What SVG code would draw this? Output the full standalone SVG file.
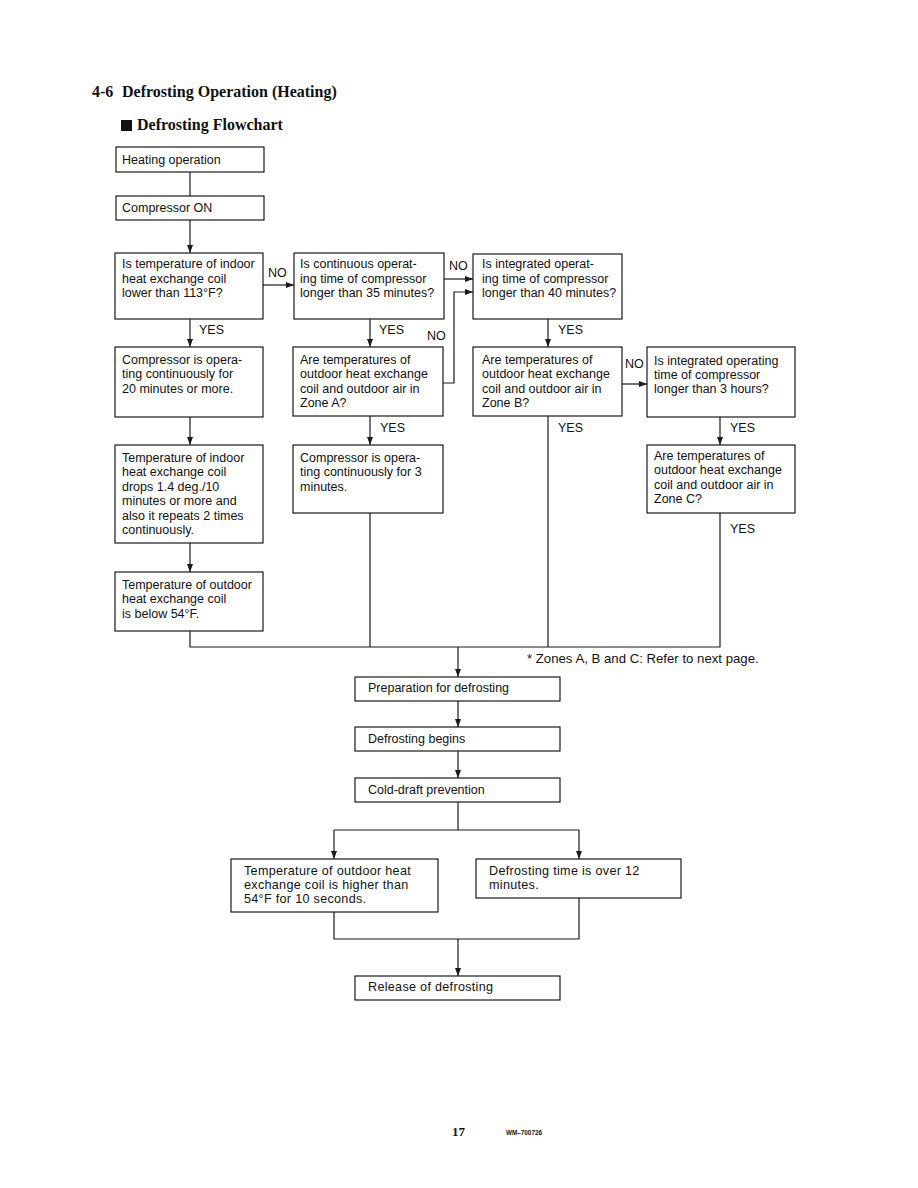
<svg xmlns="http://www.w3.org/2000/svg" width="918" height="1188" viewBox="0 0 918 1188">
<style>
.bg{fill:#ffffff}
.box{fill:#ffffff;stroke:#1a1a1a;stroke-width:1.2}
.t{font-family:"Liberation Sans",Arial,sans-serif;font-size:12.5px;fill:#111}
.t2{font-family:"Liberation Sans",Arial,sans-serif;font-size:12.6px;letter-spacing:0.3px;fill:#111}
.lbl{font-family:"Liberation Sans",Arial,sans-serif;font-size:12.5px;fill:#111}
.ttl{font-family:"Liberation Serif","Times New Roman",serif;font-weight:bold;font-size:16px;fill:#111}
.ln{fill:none;stroke:#1a1a1a;stroke-width:1.2}
.ar{fill:none;stroke:#1a1a1a;stroke-width:1.2;marker-end:url(#ah)}
</style>
<defs>
<marker id="ah" markerUnits="userSpaceOnUse" markerWidth="8" markerHeight="6" refX="8" refY="3" orient="auto">
<path d="M0,0 L8,3 L0,6 z" fill="#1a1a1a"/>
</marker>
</defs>
<rect class="bg" x="0" y="0" width="918" height="1188"/>

<g id="title">
<text class="ttl" x="92" y="97">4-6<tspan x="122">Defrosting Operation (Heating)</tspan></text>
<rect x="121" y="120" width="11" height="11" fill="#111"/>
<text class="ttl" x="137" y="130">Defrosting Flowchart</text>
</g>

<g id="connectors">
<path class="ln" d="M190,172 V196"/>
<path class="ar" d="M190,220 V253"/>
<path class="ar" d="M263,285 H294"/>
<path class="ar" d="M190,319 V347"/>
<path class="ar" d="M444,279 H473"/>
<path class="ar" d="M370,319 V347"/>
<path class="ar" d="M443,383 H454 V292 H473"/>
<path class="ar" d="M548,319 V347"/>
<path class="ar" d="M622,384 H647"/>
<path class="ar" d="M720,417 V445"/>
<path class="ar" d="M190,417 V445"/>
<path class="ar" d="M370,416 V445"/>
<path class="ar" d="M190,543 V572"/>
<path class="ln" d="M190,631 V647 H720 V513"/>
<path class="ln" d="M370,513 V647"/>
<path class="ln" d="M548,416 V647"/>
<path class="ar" d="M458,647 V677"/>
<path class="ar" d="M458,701 V727"/>
<path class="ar" d="M458,751 V778"/>
<path class="ln" d="M458,802 V830"/>
<path class="ln" d="M334,830 H579"/>
<path class="ar" d="M334,830 V859"/>
<path class="ar" d="M579,830 V859"/>
<path class="ln" d="M334,912 V939 H579 V898"/>
<path class="ar" d="M458,939 V976"/>
</g>

<g id="labels">
<text class="lbl" x="268" y="277">NO</text>
<text class="lbl" x="449" y="270">NO</text>
<text class="lbl" x="427" y="340">NO</text>
<text class="lbl" x="625" y="368">NO</text>
<text class="lbl" x="199" y="334">YES</text>
<text class="lbl" x="379" y="334">YES</text>
<text class="lbl" x="558" y="334">YES</text>
<text class="lbl" x="730" y="432">YES</text>
<text class="lbl" x="380" y="432">YES</text>
<text class="lbl" x="558" y="432">YES</text>
<text class="lbl" x="730" y="533">YES</text>
<text class="lbl" x="527" y="663" style="font-size:13.2px">* Zones A, B and C: Refer to next page.</text>
</g>

<g id="n-heating">
<rect class="box" x="116" y="147" width="148" height="25"/>
<text class="t" x="122" y="164">Heating operation</text>
</g>
<g id="n-compressor-on">
<rect class="box" x="116" y="196" width="148" height="24"/>
<text class="t" x="122" y="212">Compressor ON</text>
</g>
<g id="n-indoor-coil">
<rect class="box" x="115" y="253" width="148" height="66"/>
<text class="t" x="122" y="268">Is temperature of indoor</text>
<text class="t" x="122" y="283">heat exchange coil</text>
<text class="t" x="122" y="297">lower than 113°F?</text>
</g>
<g id="n-continuous-35">
<rect class="box" x="294" y="253" width="150" height="66"/>
<text class="t" x="300" y="268">Is continuous operat-</text>
<text class="t" x="300" y="283">ing time of compressor</text>
<text class="t" x="300" y="297">longer than 35 minutes?</text>
</g>
<g id="n-integrated-40">
<rect class="box" x="473" y="254" width="149" height="65"/>
<text class="t" x="482" y="268">Is integrated operat-</text>
<text class="t" x="482" y="283">ing time of compressor</text>
<text class="t" x="482" y="297">longer than 40 minutes?</text>
</g>
<g id="n-compressor-20">
<rect class="box" x="115" y="347" width="148" height="70"/>
<text class="t" x="122" y="364">Compressor is opera-</text>
<text class="t" x="122" y="378">ting continuously for</text>
<text class="t" x="122" y="393">20 minutes or more.</text>
</g>
<g id="n-zone-a">
<rect class="box" x="293" y="347" width="150" height="69"/>
<text class="t" x="300" y="364">Are temperatures of</text>
<text class="t" x="300" y="378">outdoor heat exchange</text>
<text class="t" x="300" y="393">coil and outdoor air in</text>
<text class="t" x="300" y="407">Zone A?</text>
</g>
<g id="n-zone-b">
<rect class="box" x="473" y="347" width="149" height="69"/>
<text class="t" x="482" y="364">Are temperatures of</text>
<text class="t" x="482" y="378">outdoor heat exchange</text>
<text class="t" x="482" y="393">coil and outdoor air in</text>
<text class="t" x="482" y="407">Zone B?</text>
</g>
<g id="n-integrated-3h">
<rect class="box" x="647" y="347" width="148" height="70"/>
<text class="t" x="654" y="365">Is integrated operating</text>
<text class="t" x="654" y="379">time of compressor</text>
<text class="t" x="654" y="393">longer than 3 hours?</text>
</g>
<g id="n-indoor-drop">
<rect class="box" x="115" y="445" width="148" height="98"/>
<text class="t" x="122" y="462">Temperature of indoor</text>
<text class="t" x="122" y="476">heat exchange coil</text>
<text class="t" x="122" y="491">drops 1.4 deg./10</text>
<text class="t" x="122" y="505">minutes or more and</text>
<text class="t" x="122" y="520">also it repeats 2 times</text>
<text class="t" x="122" y="534">continuously.</text>
</g>
<g id="n-compressor-3">
<rect class="box" x="293" y="445" width="150" height="68"/>
<text class="t" x="300" y="462">Compressor is opera-</text>
<text class="t" x="300" y="476">ting continuously for 3</text>
<text class="t" x="300" y="491">minutes.</text>
</g>
<g id="n-zone-c">
<rect class="box" x="647" y="445" width="148" height="68"/>
<text class="t" x="654" y="460">Are temperatures of</text>
<text class="t" x="654" y="474">outdoor heat exchange</text>
<text class="t" x="654" y="489">coil and outdoor air in</text>
<text class="t" x="654" y="503">Zone C?</text>
</g>
<g id="n-outdoor-54">
<rect class="box" x="115" y="572" width="148" height="59"/>
<text class="t" x="122" y="589">Temperature of outdoor</text>
<text class="t" x="122" y="603">heat exchange coil</text>
<text class="t" x="122" y="618">is below 54°F.</text>
</g>
<g id="n-preparation">
<rect class="box" x="355" y="677" width="205" height="24"/>
<text class="t" x="368" y="692">Preparation for defrosting</text>
</g>
<g id="n-begins">
<rect class="box" x="355" y="727" width="205" height="24"/>
<text class="t" x="368" y="743">Defrosting begins</text>
</g>
<g id="n-cold-draft">
<rect class="box" x="355" y="778" width="205" height="24"/>
<text class="t" x="368" y="794">Cold-draft prevention</text>
</g>
<g id="n-outdoor-higher">
<rect class="box" x="231" y="859" width="207" height="53"/>
<text class="t2" x="244" y="875">Temperature of outdoor heat</text>
<text class="t2" x="244" y="889">exchange coil is higher than</text>
<text class="t2" x="244" y="903">54°F for 10 seconds.</text>
</g>
<g id="n-time-12">
<rect class="box" x="476" y="859" width="205" height="39"/>
<text class="t2" x="489" y="875">Defrosting time is over 12</text>
<text class="t2" x="489" y="889">minutes.</text>
</g>
<g id="n-release">
<rect class="box" x="355" y="976" width="205" height="24"/>
<text class="t2" x="368" y="991">Release of defrosting</text>
</g>

<g id="footer">
<text x="452" y="1136" style="font-family:'Liberation Serif','Times New Roman',serif;font-weight:bold;font-size:13px;fill:#111">17</text>
<text x="506" y="1135" textLength="36" lengthAdjust="spacingAndGlyphs" style="font-family:'Liberation Sans',Arial,sans-serif;font-weight:bold;font-size:7.5px;fill:#111">WM–700726</text>
</g>
</svg>
